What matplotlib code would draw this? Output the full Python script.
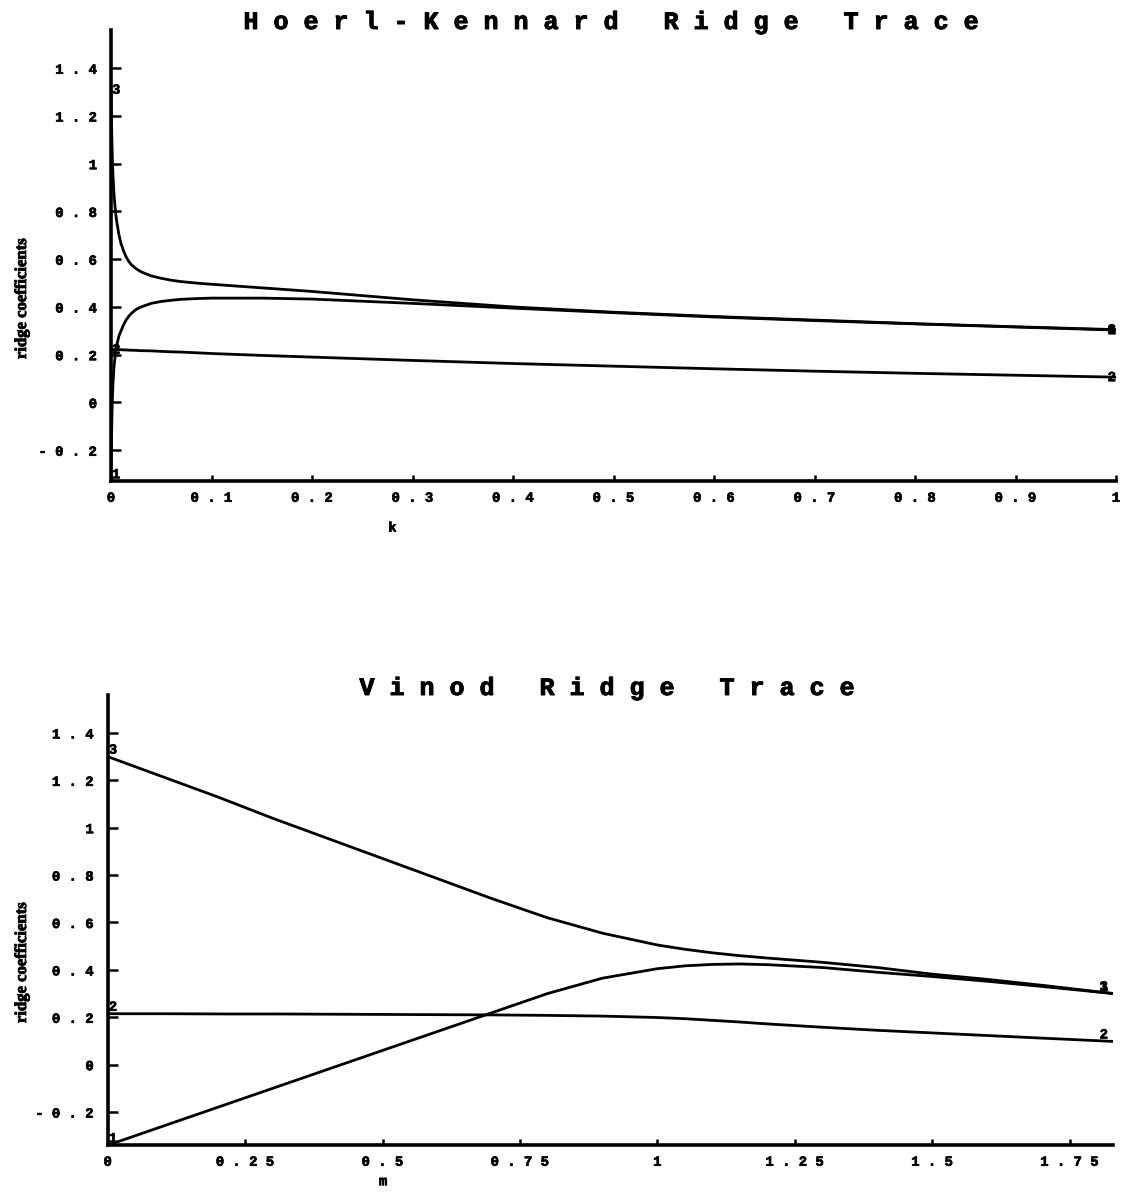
import matplotlib
matplotlib.use("Agg")
import matplotlib.pyplot as plt
import matplotlib.patheffects as pe
from matplotlib.ticker import FixedLocator, FixedFormatter

# ---------------- data ----------------
# Hoerl-Kennard ridge trace (x = k)
k_vals = [0, 0.0005, 0.001, 0.0015, 0.002, 0.003, 0.004, 0.005, 0.006, 0.008, 0.01,
          0.0125, 0.015, 0.0175, 0.02, 0.025, 0.03, 0.04, 0.05, 0.06, 0.07, 0.085,
          0.1, 0.15, 0.2, 0.3, 0.4, 0.5, 0.6, 0.7, 0.8, 0.9, 1.0]
hk_b1 = [-0.33, -0.16, -0.04, 0.03, 0.08, 0.15, 0.19, 0.22, 0.245, 0.28, 0.30,
         0.325, 0.345, 0.36, 0.372, 0.39, 0.40, 0.415, 0.423, 0.428, 0.432, 0.435,
         0.437, 0.437, 0.433, 0.415, 0.395, 0.376, 0.358, 0.343, 0.329, 0.316, 0.303]
hk_b2 = [0.222, 0.222, 0.222, 0.222, 0.222, 0.222, 0.222, 0.221, 0.221, 0.221, 0.221,
         0.220, 0.220, 0.219, 0.219, 0.218, 0.217, 0.216, 0.214, 0.212, 0.211, 0.208,
         0.205, 0.197, 0.190, 0.176, 0.163, 0.152, 0.141, 0.131, 0.122, 0.114, 0.106]
hk_b3 = [1.31, 1.18, 1.08, 1.00, 0.95, 0.87, 0.82, 0.78, 0.75, 0.70, 0.665,
         0.635, 0.61, 0.592, 0.578, 0.56, 0.547, 0.53, 0.52, 0.512, 0.506, 0.50,
         0.495, 0.48, 0.465, 0.43, 0.40, 0.378, 0.36, 0.345, 0.33, 0.317, 0.305]

# Vinod ridge trace (x = m)
m_vals = [0, 0.1, 0.2, 0.3, 0.4, 0.5, 0.6, 0.7, 0.8, 0.9, 1.0, 1.05, 1.1, 1.15, 1.2,
          1.3, 1.4, 1.5, 1.6, 1.7, 1.83]
v_b1 = [-0.34, -0.26, -0.18, -0.10, -0.02, 0.06, 0.14, 0.22, 0.30, 0.365, 0.405, 0.417,
        0.423, 0.425, 0.422, 0.41, 0.39, 0.372, 0.352, 0.33, 0.30]
v_b2 = [0.215, 0.215, 0.214, 0.214, 0.213, 0.212, 0.211, 0.210, 0.208, 0.205, 0.199, 0.194,
        0.187, 0.180, 0.172, 0.158, 0.145, 0.134, 0.123, 0.112, 0.098]
v_b3 = [1.30, 1.215, 1.13, 1.04, 0.955, 0.87, 0.785, 0.70, 0.62, 0.555, 0.505, 0.487,
        0.472, 0.46, 0.45, 0.432, 0.41, 0.382, 0.36, 0.335, 0.30]

y_ticks = [-0.2, 0, 0.2, 0.4, 0.6, 0.8, 1.0, 1.2, 1.4]
y_ticklabels = ["- 0 . 2", "0", "0 . 2", "0 . 4", "0 . 6", "0 . 8", "1", "1 . 2", "1 . 4"]
k_ticks = [0, 0.1, 0.2, 0.3, 0.4, 0.5, 0.6, 0.7, 0.8, 0.9, 1.0]
k_ticklabels = ["0", "0 . 1", "0 . 2", "0 . 3", "0 . 4", "0 . 5", "0 . 6", "0 . 7",
                "0 . 8", "0 . 9", "1"]
m_ticks = [0, 0.25, 0.5, 0.75, 1.0, 1.25, 1.5, 1.75]
m_ticklabels = ["0", "0 . 2 5", "0 . 5", "0 . 7 5", "1", "1 . 2 5", "1 . 5", "1 . 7 5"]

title_top = "Hoerl-Kennard Ridge Trace"
title_bot = "Vinod Ridge Trace"
ylabel = "ridge coefficients"

# ---------------- drawing ----------------
mono = "Liberation Mono"
plt.rcParams["font.family"] = [mono, "DejaVu Sans Mono"]
plt.rcParams["font.weight"] = "bold"

W, H = 1126, 1192
fig = plt.figure(figsize=(W / 100, H / 100), dpi=100)

heavy = [pe.withStroke(linewidth=0.5, foreground="black")]
heavy_title = [pe.withStroke(linewidth=0.7, foreground="black")]
heavy_serif = [pe.withStroke(linewidth=0.6, foreground="black")]


def spaced(s):
    return " ".join(list(s))


def setup(ax, xlim, ylim, xt, xtl):
    ax.set_xlim(*xlim)
    ax.set_ylim(*ylim)
    for s in ["top", "right"]:
        ax.spines[s].set_visible(False)
    for s in ["left", "bottom"]:
        ax.spines[s].set_linewidth(2.6)
    ax.yaxis.set_major_locator(FixedLocator(y_ticks))
    ax.yaxis.set_major_formatter(FixedFormatter(y_ticklabels))
    ax.xaxis.set_major_locator(FixedLocator(xt))
    ax.xaxis.set_major_formatter(FixedFormatter(xtl))
    ax.tick_params(axis="y", direction="in", length=7, width=1.8, pad=10, labelsize=10)
    ax.tick_params(axis="x", direction="in", length=4, width=1.8, pad=7, labelsize=10)


def thicken(ax):
    fig.canvas.draw()
    for lab in ax.get_xticklabels() + ax.get_yticklabels():
        lab.set_path_effects(heavy)


lw = 2.0
# top axes
ax1 = fig.add_axes([111 / W, 1 - 481 / H, (1116 - 111) / W, (481 - 30) / H])
ax1.plot(k_vals, hk_b3, color="black", lw=lw)
ax1.plot(k_vals, hk_b1, color="black", lw=lw)
ax1.plot(k_vals, hk_b2, color="black", lw=lw)
setup(ax1, (0, 1.0), (-0.329, 1.56), k_ticks, k_ticklabels)
ax1.set_xlabel("k", fontweight="bold", fontsize=10, path_effects=heavy)
ax1.xaxis.set_label_coords(0.28, -0.088)

lab_kw = dict(fontweight="bold", fontsize=10, color="black", path_effects=heavy)
ax1.text(k_vals[0] + 0.001, hk_b3[0], "3", ha="left", va="center", **lab_kw)
ax1.text(k_vals[0] + 0.001, hk_b1[0], "1", ha="left", va="bottom", **lab_kw)
ax1.text(k_vals[0] + 0.001, hk_b2[0], "2", ha="left", va="center", **lab_kw)
ax1.text(k_vals[-1], hk_b3[-1], "3", ha="right", va="center", **lab_kw)
ax1.text(k_vals[-1], hk_b1[-1], "1", ha="right", va="center", **lab_kw)
ax1.text(k_vals[-1], hk_b2[-1], "2", ha="right", va="center", **lab_kw)

# bottom axes
ax2 = fig.add_axes([107.7 / W, 1 - 1145 / H, (1113 - 107.7) / W, (1145 - 695) / H])
ax2.plot(m_vals, v_b3, color="black", lw=lw)
ax2.plot(m_vals, v_b1, color="black", lw=lw)
ax2.plot(m_vals, v_b2, color="black", lw=lw)
setup(ax2, (0, 1.829), (-0.339, 1.56), m_ticks, m_ticklabels)
ax2.set_xlabel("m", fontweight="bold", fontsize=10, path_effects=heavy)
ax2.xaxis.set_label_coords(0.274, -0.065)

ax2.text(m_vals[0] + 0.002, v_b3[0], "3", ha="left", va="bottom", **lab_kw)
ax2.text(m_vals[0] + 0.002, v_b1[0], "1", ha="left", va="bottom", **lab_kw)
ax2.text(m_vals[0] + 0.002, v_b2[0], "2", ha="left", va="bottom", **lab_kw)
ax2.text(m_vals[-1] - 0.01, v_b1[-1], "1", ha="right", va="bottom", **lab_kw)
ax2.text(m_vals[-1] - 0.01, v_b3[-1], "3", ha="right", va="bottom", **lab_kw)
ax2.text(m_vals[-1] - 0.01, v_b2[-1], "2", ha="right", va="bottom", **lab_kw)

# titles
fig.text(611 / W, 1 - 22 / H, spaced(title_top), ha="center", va="center",
         fontweight="bold", fontsize=18, path_effects=heavy_title)
fig.text(607 / W, 1 - 688 / H, spaced(title_bot), ha="center", va="center",
         fontweight="bold", fontsize=18, path_effects=heavy_title)

# y labels
for yc in (299, 963):
    fig.text(22 / W, 1 - yc / H, ylabel, rotation=90, ha="center", va="center",
             family=["Liberation Serif", "DejaVu Serif"],
             fontweight="bold", fontsize=12, path_effects=heavy_serif)

thicken(ax1)
thicken(ax2)

fig.savefig("out.png", dpi=100, facecolor="white")
